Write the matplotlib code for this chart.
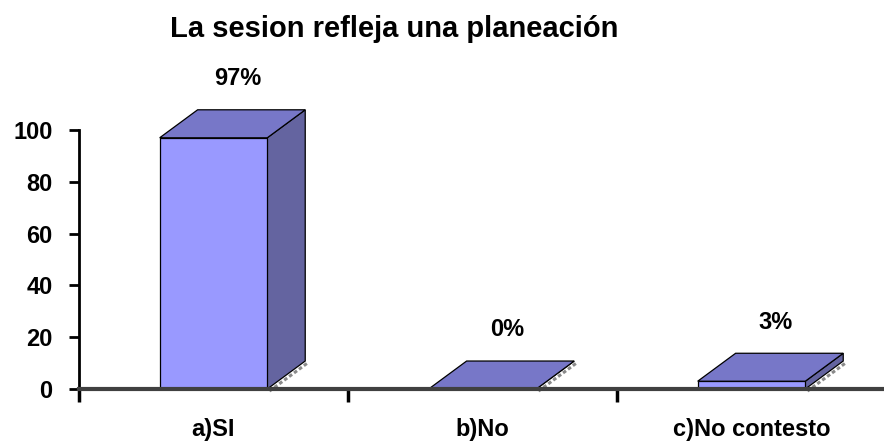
import matplotlib
matplotlib.use("Agg")
import matplotlib.pyplot as plt
from matplotlib.patches import Polygon

plt.rcParams['font.family'] = ['Liberation Sans', 'DejaVu Sans']
plt.rcParams['font.weight'] = 'bold'

title = "La sesion refleja una planeación"
categories = ["a)SI", "b)No", "c)No contesto"]
values = [97, 0, 3]
value_labels = ["97%", "0%", "3%"]
yticks = [0, 20, 40, 60, 80, 100]

front_c = "#9999FF"
top_c = "#7777C8"
side_c = "#6464A0"

W, H = 884, 442
fig = plt.figure(figsize=(W / 100, H / 100), dpi=100)
ax = fig.add_axes([79 / W, (H - 389) / H, (886 - 79) / W, (389 - 130) / H])
ax.set_xlim(0, 3)
ax.set_ylim(0, 100)

bw = 0.40      # bar width in category units
dx = 0.141     # depth offset x (category units)
dy = 10.8      # depth offset y (data units)

for i, v in enumerate(values):
    xc = i + 0.5
    x0, x1 = xc - bw / 2, xc + bw / 2
    # shadow under side bottom edge
    ax.plot([x1 + 0.008, x1 + dx + 0.008], [-0.8, dy - 0.8], color="#8a8a8a",
            lw=2.2, ls=(0, (1.2, 0.8)), clip_on=False, zorder=1)
    # side face
    ax.add_patch(Polygon([(x1, 0), (x1 + dx, dy), (x1 + dx, v + dy), (x1, v)],
                         closed=True, facecolor=side_c, edgecolor="black",
                         lw=0.9, clip_on=False, zorder=2))
    # front face
    if v > 0:
        ax.add_patch(Polygon([(x0, 0), (x1, 0), (x1, v), (x0, v)], closed=True,
                             facecolor=front_c, edgecolor="black", lw=0.9,
                             clip_on=False, zorder=3))
    # top face
    ax.add_patch(Polygon([(x0, v), (x1, v), (x1 + dx, v + dy), (x0 + dx, v + dy)],
                         closed=True, facecolor=top_c, edgecolor="black",
                         lw=0.9, clip_on=False, zorder=3))
    ax.text(xc + 0.09, v + dy + 12, value_labels[i], ha="center", va="center",
            fontsize=17, fontweight="bold", clip_on=False)

for s in ["top", "right"]:
    ax.spines[s].set_visible(False)
ax.spines["left"].set_linewidth(2)
ax.spines["left"].set_color("black")
ax.spines["bottom"].set_linewidth(3)
ax.spines["bottom"].set_color("#404040")
ax.spines["bottom"].set_zorder(4)

ax.set_yticks(yticks)
ax.set_yticklabels([str(t) for t in yticks], fontsize=17, fontweight="bold")
ax.tick_params(axis="y", direction="out", length=7, width=2, pad=12)

ax.set_xticks([0, 1, 2, 3])
ax.set_xticklabels([])
ax.tick_params(axis="x", which="major", direction="out", length=9, width=2.5,
               color="black")
ax.set_xticks([0.5, 1.5, 2.5], minor=True)
ax.set_xticklabels(categories, minor=True, fontsize=17, fontweight="bold")
ax.tick_params(axis="x", which="minor", length=0, pad=21)

fig.text(394 / W, 1 - 37 / H, title, ha="center", va="baseline",
         fontsize=21, fontweight="bold")

fig.savefig("out.png", dpi=100)
